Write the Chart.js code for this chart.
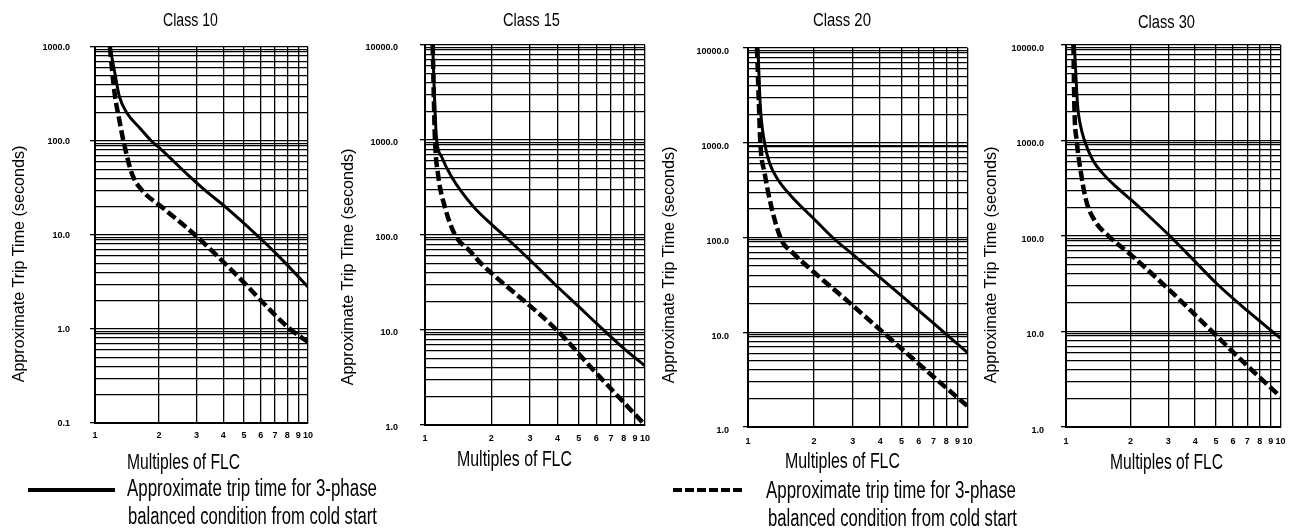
<!DOCTYPE html>
<html>
<head>
<meta charset="utf-8">
<script src="https://cdn.jsdelivr.net/npm/chart.js@4.4.1/dist/chart.umd.min.js"></script>
<style>
html,body{margin:0;padding:0;background:#fff;}
#stage{position:relative;width:1294px;height:531px;overflow:hidden;font-family:"Liberation Sans",Arial,sans-serif;color:#000;}
.box{position:absolute;top:0;height:480px;}
.t{position:absolute;white-space:nowrap;line-height:1;transform-origin:0 0;z-index:5;color:#000;}
svg{position:absolute;left:0;top:0;z-index:4;}
</style>
</head>
<body>
<div id="stage">
  <div class="box" id="b0" style="left:0px;width:320px;"><canvas id="c0"></canvas></div>
  <div class="box" id="b1" style="left:330px;width:325px;"><canvas id="c1"></canvas></div>
  <div class="box" id="b2" style="left:655px;width:323px;"><canvas id="c2"></canvas></div>
  <div class="box" id="b3" style="left:975px;width:316px;"><canvas id="c3"></canvas></div>
  <svg width="1294" height="531">
    <line x1="28" y1="490" x2="115" y2="490" stroke="#000" stroke-width="4"/>
    <line x1="673" y1="490" x2="742" y2="490" stroke="#000" stroke-width="4" stroke-dasharray="9 3"/>
  </svg>
</div>
<script>
// ---------- data ----------
const chartTitles = ['Class 10', 'Class 15', 'Class 20', 'Class 30'];
const xAxisTitle = 'Multiples of FLC';
const yAxisTitle = 'Approximate Trip Time (seconds)';
const legendLines = ['Approximate trip time for 3-phase', 'balanced condition from cold start'];

const xTickValues = [1, 2, 3, 4, 5, 6, 7, 8, 9, 10];
const yGridFactors = [1, 2, 3, 4, 5, 6, 7, 8, 9, 9.4];
const yAxisMin = [0.1, 1, 1, 1];
const yAxisMax = [1000, 10000, 10000, 10000];

const class10SolidX = [1.175, 1.24, 1.30, 1.41, 1.63, 1.84, 2.06, 2.69, 3.28, 4.08, 5.74, 7.26, 10];
const class10SolidY = [1000, 525, 300, 200, 136, 100, 80, 45, 30, 20, 10, 6.0, 2.8];
const class10DashX  = [1.175, 1.23, 1.31, 1.36, 1.49, 1.66, 2.05, 2.95, 4.54, 8.23, 10];
const class10DashY  = [1000, 350, 154, 100, 45, 30, 20, 10, 3.9, 1.0, 0.73];

const class15SolidX = [1.084, 1.11, 1.13, 1.19, 1.32, 1.66, 2.04, 2.27, 3.0, 4.0, 5.0, 6.0, 8.0, 10];
const class15SolidY = [10000, 2070, 1000, 667, 411, 199, 125, 100, 54.6, 28.5, 17.6, 11.8, 6.4, 4.2];
const class15DashX  = [1.084, 1.10, 1.11, 1.15, 1.23, 1.37, 1.6, 1.8, 2.01, 3.97, 5.82, 10];
const class15DashY  = [10000, 2070, 1000, 411, 199, 100, 68, 50, 39.5, 10, 3.8, 1.0];

const class20SolidX = [1.11, 1.138, 1.19, 1.254, 1.368, 1.574, 2.01, 2.43, 3.02, 4.04, 5.01, 6.93, 10];
const class20SolidY = [10000, 2430, 1000, 612, 409, 273, 155, 100, 65.4, 37, 24.2, 12.7, 6.1];
const class20DashX  = [1.099, 1.122, 1.138, 1.19, 1.276, 1.418, 1.60, 2.01, 3.02, 4.04, 5.01, 6.93, 10];
const class20DashY  = [10000, 2430, 1000, 481, 214, 95, 68.9, 42.5, 18.9, 10.4, 6.7, 3.45, 1.66];

const class30SolidX = [1.094, 1.134, 1.163, 1.219, 1.334, 1.486, 1.715, 2.02, 2.37, 3.05, 4.03, 5.05, 6.98, 10];
const class30SolidY = [10000, 2250, 1510, 1000, 622, 450, 327, 237, 171, 100, 53, 31.6, 16.6, 8.5];
const class30DashX  = [1.083, 1.094, 1.122, 1.176, 1.24, 1.358, 1.596, 2.02, 3.05, 4.03, 5.01, 6.98, 10];
const class30DashY  = [10000, 2250, 1000, 450, 237, 146, 98, 62.7, 26.9, 14.7, 9.1, 4.4, 2.08];

const series = [
  {sx: class10SolidX, sy: class10SolidY, dx: class10DashX, dy: class10DashY},
  {sx: class15SolidX, sy: class15SolidY, dx: class15DashX, dy: class15DashY},
  {sx: class20SolidX, sy: class20SolidY, dx: class20DashX, dy: class20DashY},
  {sx: class30SolidX, sy: class30SolidY, dx: class30DashX, dy: class30DashY}
];

// ---------- layout (positions only) ----------
const BOX_H = 480, X_AXIS_H = 22;
const layouts = [
  {yAxisW: 95, padRight: 12,   top: 47, bottom: 423, tickPad: 20, yLabelOff: 1,   xTickPad: 3,   titleX: 163,  titleW: 55, titleBase: 26, xtX: 127,  xtW: 113, xtBase: 470, ytCx: 19,  ytCy: 264},
  {yAxisW: 95, padRight: 10,   top: 45, bottom: 425, tickPad: 22, yLabelOff: 3,   xTickPad: 4,   titleX: 503,  titleW: 57, titleBase: 26, xtX: 457,  xtW: 115, xtBase: 467, ytCx: 348, ytCy: 267},
  {yAxisW: 93, padRight: 10,   top: 48, bottom: 427, tickPad: 14, yLabelOff: 4,   xTickPad: 5.5, titleX: 813,  titleW: 58, titleBase: 26, xtX: 785,  xtW: 115, xtBase: 469, ytCx: 669, ytCy: 265},
  {yAxisW: 91, padRight: 10.5, top: 45, bottom: 427, tickPad: 17, yLabelOff: 3.5, xTickPad: 5.5, titleX: 1138, titleW: 57, titleBase: 28, xtX: 1110, xtW: 113, xtBase: 470, ytCx: 991, ytCy: 265}
];

// ---------- helpers ----------
function isMajor(v) {
  const l = Math.log10(v);
  return Math.abs(l - Math.round(l)) < 1e-6;
}
function gridValues(min, max) {
  const out = [];
  const e0 = Math.round(Math.log10(min)), e1 = Math.round(Math.log10(max));
  for (let e = e0; e < e1; e++) {
    yGridFactors.forEach(f => out.push(parseFloat((f * Math.pow(10, e)).toPrecision(6))));
  }
  out.push(max);
  return out;
}
function toPoints(xs, ys) { return xs.map((x, i) => ({x: x, y: ys[i]})); }

Chart.defaults.font.family = '"Liberation Sans", Arial, sans-serif';
Chart.defaults.color = '#000';

const tickFont = {family: '"Liberation Sans", Arial, sans-serif', size: 9, weight: 'bold'};

series.forEach((s, i) => {
  const L = layouts[i];
  const yTicks = gridValues(yAxisMin[i], yAxisMax[i]);
  new Chart(document.getElementById('c' + i), {
    type: 'scatter',
    data: {
      datasets: [
        {label: 'solid', data: toPoints(s.sx, s.sy), showLine: true, borderColor: '#000', borderWidth: 3,
         pointRadius: 0, cubicInterpolationMode: 'monotone', fill: false},
        {label: 'dashed', data: toPoints(s.dx, s.dy), showLine: true, borderColor: '#000', borderWidth: 4.5,
         borderDash: [10, 4], pointRadius: 0, cubicInterpolationMode: 'monotone', fill: false}
      ]
    },
    options: {
      responsive: true, maintainAspectRatio: false, animation: false, events: [],
      layout: {padding: {left: 0, right: L.padRight, top: L.top, bottom: BOX_H - L.bottom - X_AXIS_H}},
      plugins: {legend: {display: false}, tooltip: {enabled: false}, title: {display: false}},
      scales: {
        x: {
          type: 'logarithmic', min: 1, max: 10,
          afterFit: sc => { sc.height = X_AXIS_H; },
          afterBuildTicks: sc => { sc.ticks = xTickValues.map(v => ({value: v, major: false})); },
          ticks: {autoSkip: false, maxRotation: 0, minRotation: 0, padding: L.xTickPad, font: tickFont, color: '#000',
                  callback: v => String(v)},
          grid: {color: '#000', lineWidth: 1.3, tickLength: 4, tickColor: 'rgba(0,0,0,0)'},
          border: {color: '#000', width: 2}
        },
        y: {
          type: 'logarithmic', min: yAxisMin[i], max: yAxisMax[i],
          afterFit: sc => { sc.width = L.yAxisW; },
          afterBuildTicks: sc => { sc.ticks = yTicks.map(v => ({value: v, major: false})); },
          ticks: {autoSkip: false, padding: L.tickPad, labelOffset: L.yLabelOff, font: tickFont, color: '#000',
                  callback: v => isMajor(v) ? Number(v).toFixed(1) : ''},
          grid: {color: '#000', lineWidth: 1.3, tickLength: 5,
                 tickColor: ctx => (ctx.tick && isMajor(ctx.tick.value)) ? '#000' : 'rgba(0,0,0,0)'},
          border: {color: '#000', width: 2}
        }
      }
    }
  });
});

// ---------- text ----------
const stage = document.getElementById('stage');
function addText(str, o) {
  const d = document.createElement('div');
  d.className = 't';
  d.textContent = str;
  d.style.fontSize = o.size + 'px';
  stage.appendChild(d);
  const natural = d.offsetWidth || 1;
  const sc = o.w ? o.w / natural : 1;
  if (o.rotate) {
    d.style.left = o.cx + 'px';
    d.style.top = o.cy + 'px';
    d.style.transform = 'rotate(-90deg) scaleX(' + sc + ') translate(-50%,-50%)';
  } else {
    d.style.left = o.x + 'px';
    d.style.top = (o.base - 0.8465 * o.size) + 'px';
    d.style.transform = 'scaleX(' + sc + ')';
  }
}
layouts.forEach((L, i) => {
  addText(chartTitles[i], {size: 19, x: L.titleX, w: L.titleW, base: L.titleBase});
  addText(xAxisTitle, {size: 22, x: L.xtX, w: L.xtW, base: L.xtBase});
  addText(yAxisTitle, {size: 16, rotate: true, cx: L.ytCx, cy: L.ytCy, w: 237});
});
addText(legendLines[0], {size: 23, x: 127, w: 250, base: 496.5});
addText(legendLines[1], {size: 23, x: 128, w: 249, base: 524});
addText(legendLines[0], {size: 23, x: 766, w: 250, base: 498.5});
addText(legendLines[1], {size: 23, x: 768, w: 249, base: 526});
</script>
</body>
</html>
